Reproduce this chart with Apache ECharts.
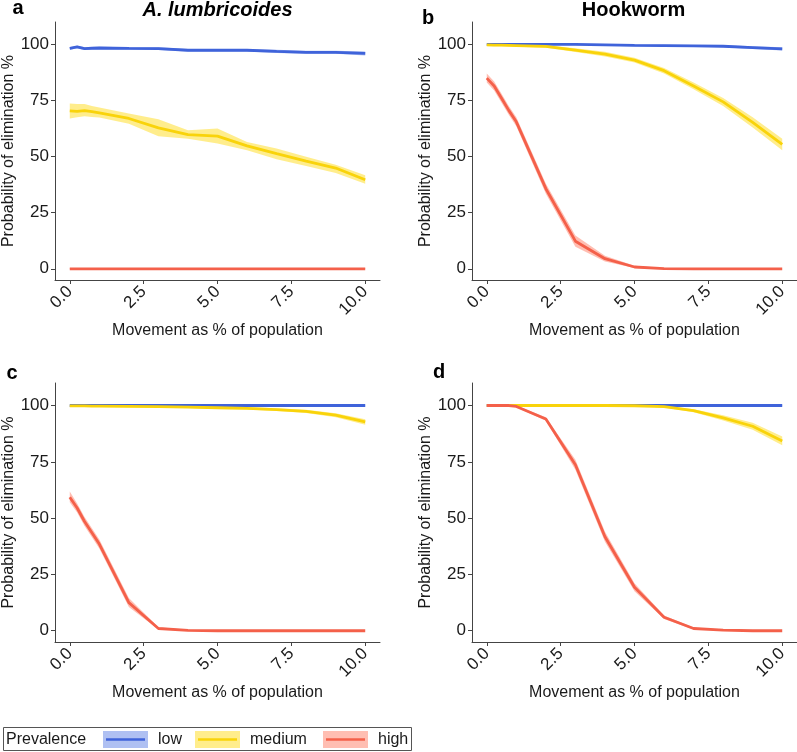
<!DOCTYPE html>
<html><head><meta charset="utf-8">
<script src="https://cdn.jsdelivr.net/npm/echarts@6/dist/echarts.min.js"></script>
<style>html,body{margin:0;padding:0;background:#fff}#c{width:797px;height:752px}</style>
</head><body><div id="c"></div><script>
// ---- data ----
const xs = [0, 0.25, 0.5, 0.75, 1, 2, 3, 4, 5, 6, 7, 8, 9, 10];
const xTicks = [0, 2.5, 5, 7.5, 10];
const yTicks = [0, 25, 50, 75, 100];
const levels = ['low', 'medium', 'high'];
const panelLetters = ['a', 'b', 'c', 'd'];
const panelTitles = ['A. lumbricoides', 'Hookworm'];

// panel a
const aLow    = [98.2, 98.9, 98.1, 98.3, 98.4, 98.2, 98.1, 97.4, 97.4, 97.4, 96.9, 96.5, 96.5, 96.0];
const aLowLo  = [97.6, 98.3, 97.5, 97.7, 97.8, 97.6, 97.5, 96.8, 96.8, 96.8, 96.2, 95.8, 95.8, 95.1];
const aLowHi  = [98.8, 99.4, 98.7, 98.9, 99.0, 98.8, 98.7, 98.0, 98.0, 98.0, 97.6, 97.2, 97.2, 96.9];
const aMed    = [70.4, 70.2, 70.5, 70.0, 69.5, 67.0, 62.8, 59.8, 59.1, 54.8, 51.3, 48.0, 44.9, 39.7];
const aMedLo  = [67.0, 67.5, 68.0, 67.7, 67.4, 64.7, 59.1, 58.0, 55.8, 52.8, 48.8, 45.8, 42.7, 37.9];
const aMedHi  = [73.7, 73.5, 73.4, 72.6, 71.9, 69.2, 66.7, 61.8, 62.5, 56.5, 53.6, 49.9, 46.4, 41.7];
const aHigh   = [0, 0, 0, 0, 0, 0, 0, 0, 0, 0, 0, 0, 0, 0];
const aHighLo = [0, 0, 0, 0, 0, 0, 0, 0, 0, 0, 0, 0, 0, 0];
const aHighHi = [0.3, 0.3, 0.3, 0.3, 0.3, 0.3, 0.3, 0.3, 0.3, 0.3, 0.3, 0.3, 0.3, 0.3];

// panel b
const bLow    = [100, 100, 100, 100, 100, 100, 100, 99.8, 99.6, 99.5, 99.4, 99.2, 98.6, 98.0];
const bLowLo  = [99.7, 99.7, 99.7, 99.7, 99.7, 99.7, 99.6, 99.4, 99.2, 99.1, 99.0, 98.7, 98.0, 97.3];
const bLowHi  = [100, 100, 100, 100, 100, 100, 100, 100, 100, 99.9, 99.8, 99.7, 99.2, 98.7];
const bMed    = [99.8, 99.7, 99.7, 99.6, 99.5, 99.1, 97.5, 95.7, 93.0, 88.3, 81.5, 74.4, 65.3, 55.4];
const bMedLo  = [99.3, 99.2, 99.2, 99.1, 99.0, 98.5, 96.6, 94.6, 91.9, 87.0, 80.0, 72.6, 63.0, 52.8];
const bMedHi  = [100, 100, 100, 100, 100, 99.6, 98.3, 96.7, 94.1, 89.5, 83.0, 76.1, 67.5, 58.0];
const bHigh   = [85.0, 81.5, 76.0, 70.5, 65.5, 35.7, 12.3, 4.5, 0.8, 0.1, 0, 0, 0, 0];
const bHighLo = [83.0, 79.5, 74.0, 68.5, 63.5, 33.5, 9.8, 3.2, 0.3, 0, 0, 0, 0, 0];
const bHighHi = [87.0, 83.5, 78.0, 72.5, 67.5, 37.9, 14.8, 5.8, 1.3, 0.3, 0.1, 0, 0, 0];

// panel c
const cLow    = [100, 100, 100, 100, 100, 100, 100, 100, 100, 100, 100, 100, 100, 100];
const cLowLo  = [99.7, 99.7, 99.7, 99.7, 99.7, 99.7, 99.7, 99.7, 99.7, 99.7, 99.7, 99.7, 99.7, 99.7];
const cLowHi  = [100, 100, 100, 100, 100, 100, 100, 100, 100, 100, 100, 100, 100, 100];
const cMed    = [99.8, 99.8, 99.8, 99.7, 99.7, 99.6, 99.5, 99.3, 99.0, 98.7, 98.2, 97.4, 95.7, 92.7];
const cMedLo  = [99.4, 99.4, 99.4, 99.3, 99.3, 99.2, 99.1, 98.9, 98.5, 98.2, 97.6, 96.7, 94.8, 91.5];
const cMedHi  = [100, 100, 100, 100, 100, 100, 99.9, 99.7, 99.4, 99.2, 98.8, 98.1, 96.6, 93.9];
const cHigh   = [59.3, 54.5, 48.5, 43.5, 38.5, 12.5, 1.0, 0.2, 0, 0, 0, 0, 0, 0];
const cHighLo = [57.0, 52.5, 46.5, 41.5, 36.5, 10.5, 0.5, 0, 0, 0, 0, 0, 0, 0];
const cHighHi = [61.8, 56.5, 50.5, 45.5, 40.5, 14.5, 1.6, 0.4, 0.1, 0, 0, 0, 0, 0];

// panel d
const dLow    = [100, 100, 100, 100, 100, 100, 100, 100, 100, 100, 100, 100, 100, 100];
const dLowLo  = [99.8, 99.8, 99.8, 99.8, 99.8, 99.8, 99.8, 99.8, 99.8, 99.8, 99.8, 99.8, 99.8, 99.8];
const dLowHi  = [100, 100, 100, 100, 100, 100, 100, 100, 100, 100, 100, 100, 100, 100];
const dMed    = [100, 100, 100, 100, 100, 100, 100, 100, 99.9, 99.5, 97.7, 94.5, 90.8, 84.3];
const dMedLo  = [99.8, 99.8, 99.8, 99.8, 99.8, 99.8, 99.8, 99.8, 99.7, 99.1, 97.0, 93.3, 89.2, 82.4];
const dMedHi  = [100, 100, 100, 100, 100, 100, 100, 100, 100, 99.9, 98.4, 95.7, 92.4, 86.2];
const dHigh   = [100, 100, 100, 100, 99.6, 94.0, 73.7, 41.7, 19.3, 6.0, 1.0, 0.3, 0, 0];
const dHighLo = [99.8, 99.8, 99.8, 99.8, 99.2, 93.2, 71.5, 39.5, 17.5, 5.2, 0.6, 0.1, 0, 0];
const dHighHi = [100, 100, 100, 100, 100, 94.8, 75.9, 43.9, 21.1, 6.8, 1.4, 0.5, 0.1, 0];

const panels = [
  {low: [aLow, aLowLo, aLowHi], medium: [aMed, aMedLo, aMedHi], high: [aHigh, aHighLo, aHighHi]},
  {low: [bLow, bLowLo, bLowHi], medium: [bMed, bMedLo, bMedHi], high: [bHigh, bHighLo, bHighHi]},
  {low: [cLow, cLowLo, cLowHi], medium: [cMed, cMedLo, cMedHi], high: [cHigh, cHighLo, cHighHi]},
  {low: [dLow, dLowLo, dLowHi], medium: [dMed, dMedLo, dMedHi], high: [dHigh, dHighLo, dHighHi]}
];

// ---- styles ----
const FONT = '"Liberation Sans", Arial, sans-serif';
const LINE = {low: '#3F63DA', medium: '#F9D30A', high: '#F4604A'};
const BAND = {low: 'rgba(65,105,225,0.42)', medium: 'rgba(255,215,0,0.45)', high: 'rgba(255,99,71,0.42)'};
const AX = '#444';
const TXT = '#1a1a1a';

const grids = [
  {left: 55, top: 22, width: 325, height: 258},
  {left: 472, top: 22, width: 325, height: 258},
  {left: 55, top: 383, width: 325, height: 259},
  {left: 472, top: 383, width: 325, height: 259}
];

function bandRender(params, api) {
  if (params.dataIndex !== 0) return null;
  const n = params.dataInsideLength;
  const upper = [], lower = [];
  for (let j = 0; j < n; j++) {
    const x = api.value(0, j);
    upper.push(api.coord([x, api.value(2, j)]));
    lower.push(api.coord([x, api.value(1, j)]));
  }
  const pts = upper.concat(lower.reverse());
  return {type: 'polygon', shape: {points: pts}, style: {fill: api.visual('color')}};
}

const xAxes = [], yAxes = [], series = [];
grids.forEach((g, i) => {
  xAxes.push({
    type: 'value', gridIndex: i, min: -0.5, max: 10.5,
    axisLine: {show: true, onZero: false, lineStyle: {color: AX, width: 1}},
    axisTick: {show: true, length: 4, customValues: xTicks, lineStyle: {color: AX}},
    axisLabel: {customValues: xTicks, rotate: 45, margin: 9, fontSize: 17, color: TXT, fontFamily: FONT,
      formatter: v => Number(v).toFixed(1)},
    splitLine: {show: false},
    name: 'Movement as % of population', nameLocation: 'middle', nameGap: 43,
    nameTextStyle: {fontSize: 16, color: TXT, fontFamily: FONT, verticalAlign: 'top'}
  });
  yAxes.push({
    type: 'value', gridIndex: i, min: -5, max: 110,
    axisLine: {show: true, onZero: false, lineStyle: {color: AX, width: 1}},
    axisTick: {show: true, length: 4, customValues: yTicks, lineStyle: {color: AX}},
    axisLabel: {customValues: yTicks, margin: 6, fontSize: 17, color: TXT, fontFamily: FONT},
    splitLine: {show: false},
    name: 'Probability of elimination %', nameLocation: 'middle', nameGap: 31, nameRotate: 90,
    nameTextStyle: {fontSize: 16, color: TXT, fontFamily: FONT}
  });
  const p = panels[i];
  levels.forEach(lv => {
    const [m, lo, hi] = p[lv];
    series.push({
      type: 'custom', xAxisIndex: i, yAxisIndex: i, silent: true, z: 1,
      itemStyle: {color: BAND[lv]},
      encode: {x: 0, y: [1, 2]},
      renderItem: bandRender,
      data: xs.map((x, j) => [x, lo[j], hi[j]])
    });
  });
  levels.forEach(lv => {
    const m = p[lv][0];
    series.push({
      type: 'line', xAxisIndex: i, yAxisIndex: i, symbol: 'none', silent: true,
      lineStyle: {color: LINE[lv], width: 2.8}, data: xs.map((x, j) => [x, m[j]]), z: 2
    });
  });
});

const graphic = [
  {type: 'text', x: 217.5, y: 10, style: {text: panelTitles[0], font: 'italic bold 20px ' + FONT, fill: '#000', align: 'center', verticalAlign: 'middle'}},
  {type: 'text', x: 633.5, y: 10, style: {text: panelTitles[1], font: 'bold 20px ' + FONT, fill: '#000', align: 'center', verticalAlign: 'middle'}},
  {type: 'text', x: 18, y: 8, style: {text: panelLetters[0], font: 'bold 20px ' + FONT, fill: '#000', align: 'center', verticalAlign: 'middle'}},
  {type: 'text', x: 428, y: 18, style: {text: panelLetters[1], font: 'bold 20px ' + FONT, fill: '#000', align: 'center', verticalAlign: 'middle'}},
  {type: 'text', x: 12, y: 373, style: {text: panelLetters[2], font: 'bold 20px ' + FONT, fill: '#000', align: 'center', verticalAlign: 'middle'}},
  {type: 'text', x: 439, y: 372, style: {text: panelLetters[3], font: 'bold 20px ' + FONT, fill: '#000', align: 'center', verticalAlign: 'middle'}},
  // legend
  {type: 'rect', shape: {x: 3.5, y: 727.5, width: 408, height: 23}, style: {fill: '#fff', stroke: '#555', lineWidth: 1}},
  {type: 'text', x: 6, y: 740, style: {text: 'Prevalence', font: '16px ' + FONT, fill: TXT, verticalAlign: 'middle'}}
];
const keyX = [103, 195, 323];
const keyLabelX = [158, 250, 378];
const keyLabels = ['low', 'medium', 'high'];
levels.forEach((lv, k) => {
  graphic.push({type: 'rect', shape: {x: keyX[k], y: 731, width: 45, height: 17}, style: {fill: BAND[lv]}});
  graphic.push({type: 'line', shape: {x1: keyX[k] + 3, y1: 739.5, x2: keyX[k] + 42, y2: 739.5}, style: {stroke: LINE[lv], lineWidth: 2.4}});
  graphic.push({type: 'text', x: keyLabelX[k], y: 740, style: {text: keyLabels[k], font: '16px ' + FONT, fill: TXT, verticalAlign: 'middle'}});
});

const chart = echarts.init(document.getElementById('c'), null, {renderer: 'canvas'});
chart.setOption({
  animation: false,
  backgroundColor: '#fff',
  grid: grids.map(g => Object.assign({containLabel: false, outerBoundsMode: 'none'}, g)),
  xAxis: xAxes,
  yAxis: yAxes,
  series: series,
  graphic: graphic
});
</script></body></html>
